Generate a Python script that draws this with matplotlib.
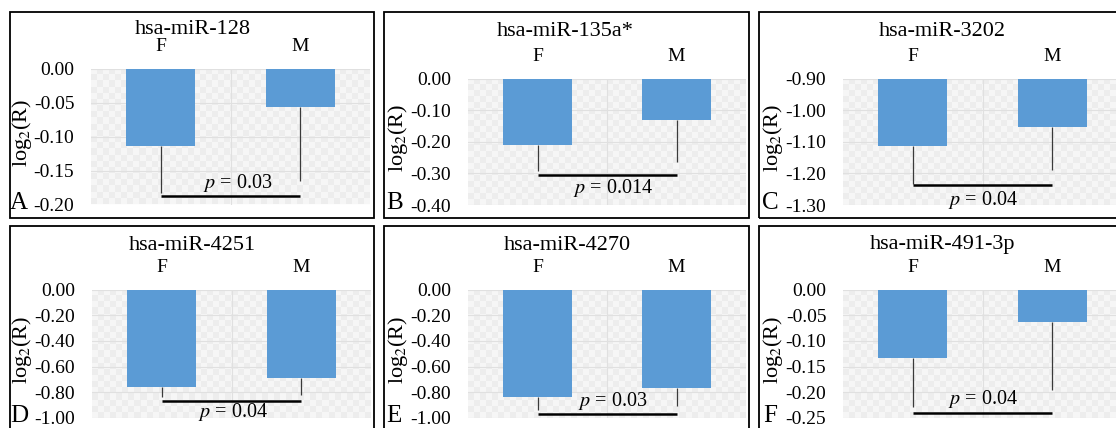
import numpy as np
import matplotlib
matplotlib.use('Agg')
import matplotlib.pyplot as plt
from matplotlib.colors import ListedColormap
from matplotlib.patches import Rectangle

plt.rcParams['font.family'] = ['Liberation Serif', 'DejaVu Serif']
plt.rcParams['mathtext.fontset'] = 'stix'

# values
mirnas = ['hsa-miR-128', 'hsa-miR-135a*', 'hsa-miR-3202',
          'hsa-miR-4251', 'hsa-miR-4270', 'hsa-miR-491-3p']
letters = ['A', 'B', 'C', 'D', 'E', 'F']
groups = ['F', 'M']
f_means = [-0.114, -0.210, -1.113, -0.756, -0.835, -0.133]
m_means = [-0.056, -0.131, -1.052, -0.685, -0.770, -0.064]
f_err = [0.069, 0.082, 0.122, 0.077, 0.101, 0.096]
m_err = [0.110, 0.132, 0.138, 0.135, 0.135, 0.131]
sig_level = [-0.187, -0.305, -1.237, -0.864, -0.970, -0.2405]
p_values = ['0.03', '0.014', '0.04', '0.04', '0.03', '0.04']
y_top = [0.0, 0.0, -0.90, 0.0, 0.0, 0.0]
y_bottom = [-0.20, -0.40, -1.30, -1.00, -1.00, -0.25]
y_step = [0.05, 0.10, 0.10, 0.20, 0.20, 0.05]

W, H = 1116, 428
fig = plt.figure(figsize=(W / 100, H / 100), dpi=100)

# layout in pixels
panel_boxes = [(10, 12, 374, 218), (384, 12, 749, 218), (759, 12, 1130, 218),
               (10, 226, 374, 440), (384, 226, 749, 440), (759, 226, 1130, 440)]
axes_boxes = [(91, 68.5, 370, 204.5), (468, 78.5, 746, 205), (843, 78.5, 1122, 205),
              (92, 289.5, 371, 418), (468, 289.5, 746, 418), (843, 289.5, 1122, 418)]
title_pos = [(193, 29), (565, 32), (942, 32), (192, 245), (567, 245), (943, 245)]
letter_pos = [(19, 203), (395, 203), (770, 203), (19, 416), (394, 416), (770, 416)]
ylabel_x = [22, 398, 773, 22, 398, 773]
p_text = [(0.554, -0.168), (0.54, -0.347), (0.504, -1.284),
          (0.51, -0.954), (0.54, -0.867), (0.50, -0.213)]

bar_color = '#5B9BD5'
checker_cmap = ListedColormap(['#f6f6f6', '#ededed'])

for i in range(6):
    px0, py0, px1, py1 = panel_boxes[i]
    fig.add_artist(Rectangle((px0 / W, 1 - py1 / H), (px1 - px0) / W, (py1 - py0) / H,
                             transform=fig.transFigure, fill=False, lw=1.3, ec='black'))

    l, t, r, b = axes_boxes[i]
    ax = fig.add_axes([l / W, 1 - b / H, (r - l) / W, (b - t) / H])

    # soft checker fill like the Excel pattern background
    board = np.indices((int((b - t) / 6), int((r - l) / 6))).sum(axis=0) % 2
    ax.imshow(board, cmap=checker_cmap, extent=(0, 1, 0, 1), transform=ax.transAxes,
              aspect='auto', interpolation='bilinear', zorder=0)

    base = y_top[i]
    means = [f_means[i], m_means[i]]
    errs = [f_err[i], m_err[i]]
    x = np.arange(len(groups))
    ax.bar(x, np.array(means) - base, bottom=base, width=0.495, color=bar_color, zorder=2)
    ax.errorbar(x, means, yerr=[errs, [0, 0]], fmt='none', ecolor='#3a3a3a',
                elinewidth=0.9, capsize=0, zorder=3)
    ax.plot([0, 1], [sig_level[i], sig_level[i]], color='black', lw=1.8,
            solid_capstyle='butt', zorder=4, clip_on=False)
    px, py = p_text[i]
    ax.text(px, py, r'$\mathit{p}$ = ' + p_values[i], ha='center', va='center',
            fontsize=14.5, zorder=5)

    ax.set_xlim(-0.5, 1.5)
    ax.set_ylim(y_bottom[i], y_top[i])
    n = int(round((y_top[i] - y_bottom[i]) / y_step[i]))
    ticks = np.linspace(y_bottom[i], y_top[i], n + 1)
    ax.set_yticks(ticks)
    ax.set_yticklabels([f'{v:.2f}' for v in ticks], fontsize=14)
    ax.xaxis.tick_top()
    ax.set_xticks(x)
    ax.set_xticklabels(groups, fontsize=14)
    ax.set_xticks([0.5], minor=True)
    ax.tick_params(axis='both', which='both', length=0)
    ax.tick_params(axis='y', pad=12)
    ax.tick_params(axis='x', pad=10)
    ax.grid(axis='y', color='#e0e0e0', lw=0.8)
    ax.grid(axis='x', which='minor', color='#e0e0e0', lw=0.8)
    ax.set_axisbelow(True)
    for s in ax.spines.values():
        s.set_visible(False)

    fig.text(title_pos[i][0] / W, 1 - title_pos[i][1] / H, mirnas[i],
             ha='center', va='center', fontsize=16)
    fig.text(letter_pos[i][0] / W, 1 - letter_pos[i][1] / H, letters[i],
             ha='center', va='center', fontsize=18)
    cy = (t + b) / 2
    fig.text(ylabel_x[i] / W, 1 - (cy - 4) / H, r'log$_2$(R)', rotation=90,
             ha='center', va='center', fontsize=16)

fig.savefig('out.png', dpi=100)
